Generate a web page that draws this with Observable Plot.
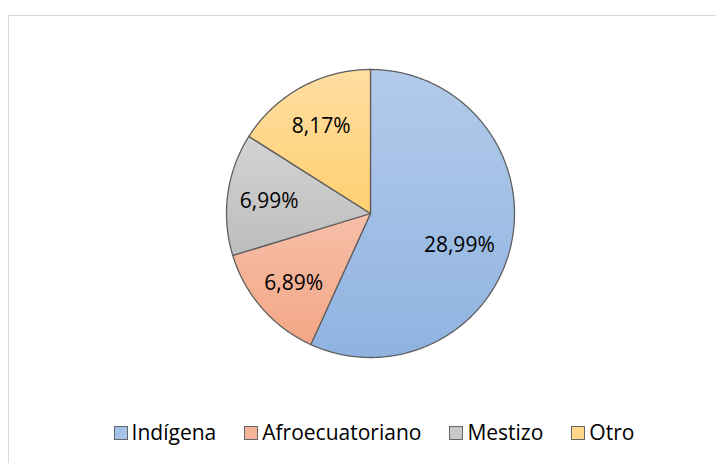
<!DOCTYPE html>
<html>
<head>
<meta charset="utf-8">
<script src="https://cdn.jsdelivr.net/npm/d3@7"></script>
<script src="https://cdn.jsdelivr.net/npm/@observablehq/plot@0.6"></script>
<style>
  html, body { margin: 0; padding: 0; background: #fff; overflow: hidden; width: 716px; height: 463px; }
  #frame { position: absolute; left: 8px; top: 15px; width: 728px; height: 470px; border: 1.5px solid #d9d9d9; box-sizing: border-box; }
  #chart { position: absolute; left: 0; top: 0; }
  #legend { position: absolute; left: 10px; top: 422px; width: 728px; display: flex; justify-content: center; align-items: center;
            font-family: "Open Sans", sans-serif; font-size: 21px; line-height: 21px; color: #000; }
  .item { display: flex; align-items: center; margin: 0 14px; }
  .sw { width: 14px; height: 14px; box-sizing: border-box; border: 1.6px solid #666; margin-right: 4px; }
</style>
</head>
<body>
<div id="frame"></div>
<div id="chart"></div>
<div id="legend"></div>
<svg width="0" height="0" style="position:absolute">
  <defs id="grads"></defs>
</svg>
<script>
// ---- data ----
const categories = ["Indígena", "Afroecuatoriano", "Mestizo", "Otro"];
const values = [28.99, 6.89, 6.99, 8.17];
const valueLabels = ["28,99%", "6,89%", "6,99%", "8,17%"];

// ---- styles ----
const topColors = ["#b3cbea", "#f6bfa9", "#d3d3d3", "#ffdea3"];
const bottomColors = ["#8fb3e1", "#f3a685", "#bdbdbd", "#ffd070"];
const flatColors = ["#a5c2e8", "#f5b398", "#c8c8c8", "#ffd78a"];

// gradients
const defs = document.getElementById("grads");
categories.forEach((c, i) => {
  const g = document.createElementNS("http://www.w3.org/2000/svg", "linearGradient");
  g.setAttribute("id", "g" + i);
  g.setAttribute("x1", "0"); g.setAttribute("y1", "0");
  g.setAttribute("x2", "0"); g.setAttribute("y2", "1");
  [[0, topColors[i]], [1, bottomColors[i]]].forEach(([o, col]) => {
    const s = document.createElementNS("http://www.w3.org/2000/svg", "stop");
    s.setAttribute("offset", o);
    s.setAttribute("stop-color", col);
    g.appendChild(s);
  });
  defs.appendChild(g);
});

// ---- geometry from data ----
const W = 716, H = 400, cx = 370, cy = 213, R = 144;
const total = d3.sum(values);
const pts = [];
const labs = [];
let acc = 0;
values.forEach((v, i) => {
  const a0 = acc / total * 2 * Math.PI;
  acc += v;
  const a1 = acc / total * 2 * Math.PI;
  const cat = categories[i];
  pts.push({cat, x: 0, y: 0});
  const n = Math.max(2, Math.ceil((a1 - a0) / (Math.PI / 360)));
  for (let k = 0; k <= n; k++) {
    const a = a0 + (a1 - a0) * k / n;
    pts.push({cat, x: Math.sin(a), y: Math.cos(a)});
  }
  pts.push({cat, x: 0, y: 0});
  const big = v / total > 0.5;
  const am = big ? a0 + (a1 - a0) * 0.53 : (a0 + a1) / 2;
  const rl = big ? 0.65 : 0.71;
  labs.push({cat, text: valueLabels[i], x: rl * Math.sin(am), y: rl * Math.cos(am)});
});

const plot = Plot.plot({
  width: W,
  height: H,
  margin: 0,
  style: {background: "transparent"},
  x: {domain: [-cx / R, (W - cx) / R], range: [0, W], axis: null},
  y: {domain: [-(H - cy) / R, cy / R], range: [H, 0], axis: null},
  color: {domain: categories, range: categories.map((c, i) => `url(#g${i})`)},
  marks: [
    Plot.line(pts, {x: "x", y: "y", z: "cat", fill: "cat", stroke: "#5f5f5f", strokeWidth: 1.3, strokeLinejoin: "round"}),
    Plot.text(labs, {x: "x", y: "y", text: "text", fill: "#000", fontSize: 21, fontFamily: "Open Sans", textAnchor: "middle", lineAnchor: "middle", dy: 2})
  ]
});
document.getElementById("chart").appendChild(plot);

// legend
const leg = document.getElementById("legend");
categories.forEach((c, i) => {
  const it = document.createElement("div");
  it.className = "item";
  const sw = document.createElement("div");
  sw.className = "sw";
  sw.style.background = flatColors[i];
  const t = document.createElement("span");
  t.textContent = c;
  it.appendChild(sw); it.appendChild(t);
  leg.appendChild(it);
});
</script>
</body>
</html>
